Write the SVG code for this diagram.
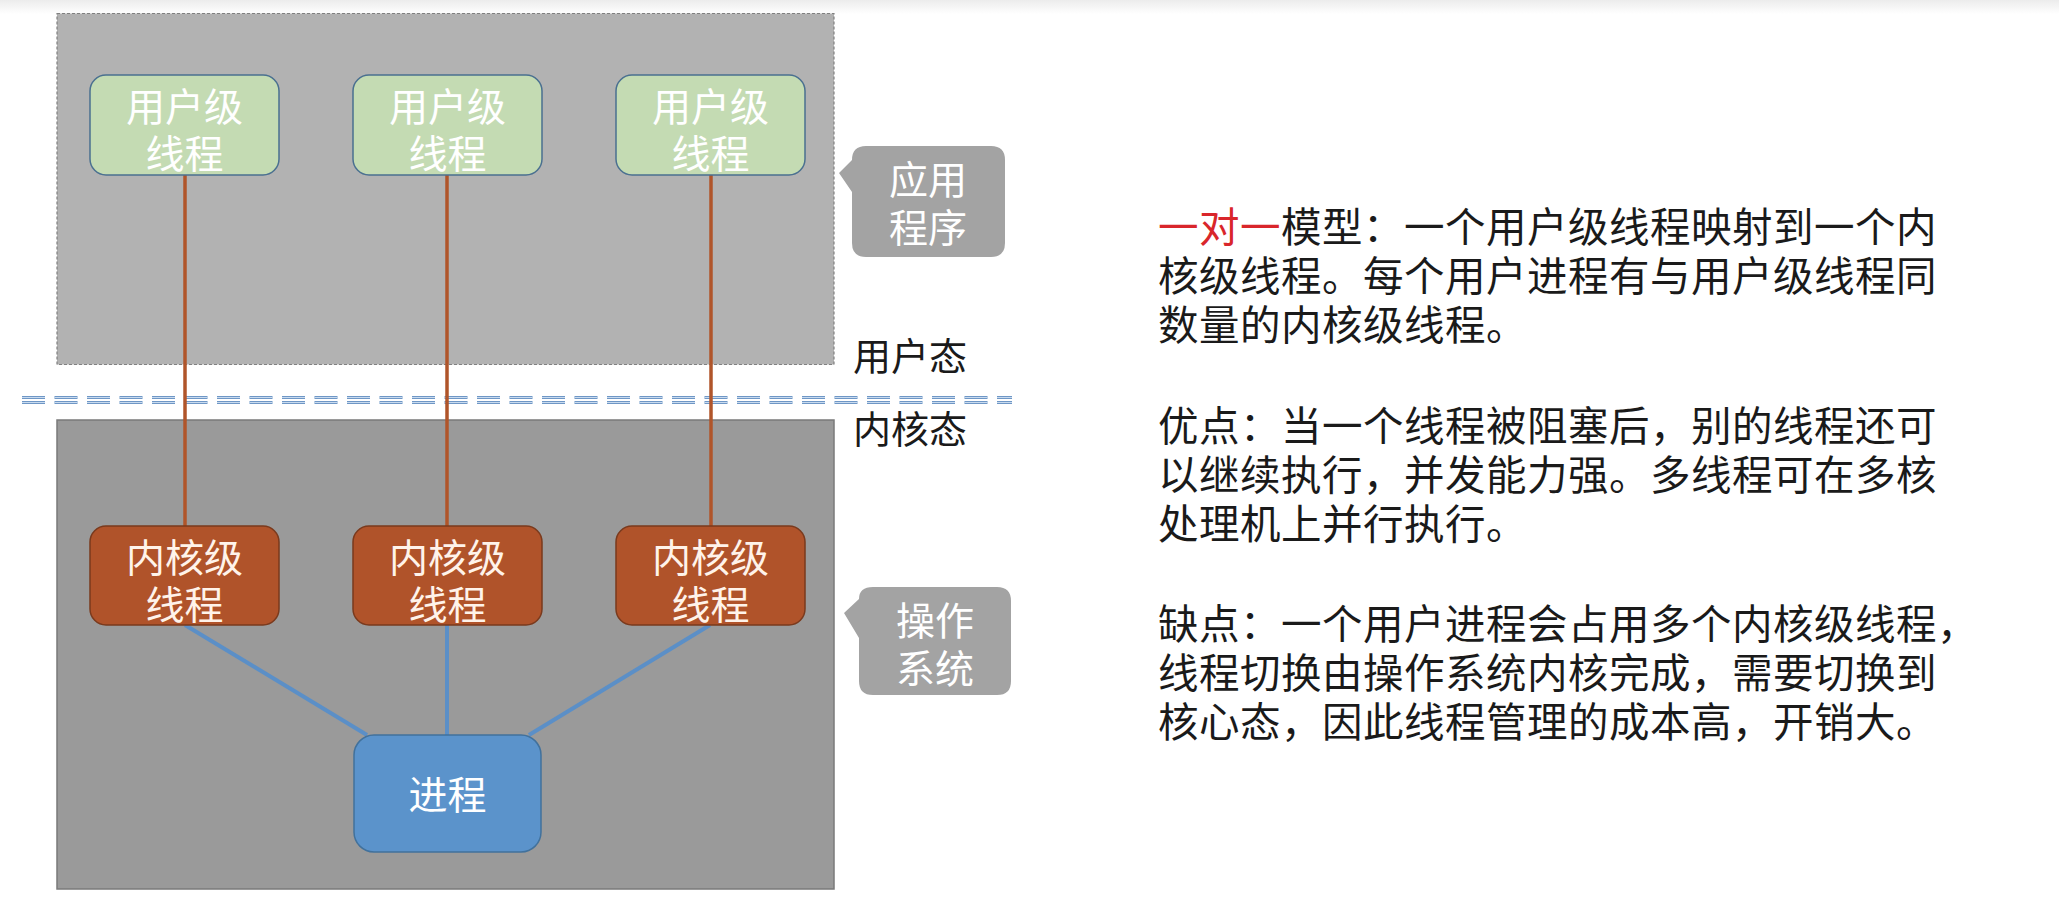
<svg xmlns="http://www.w3.org/2000/svg" width="2059" height="904" viewBox="0 0 2059 904">
<defs>
<linearGradient id="topfade" x1="0" y1="0" x2="0" y2="1">
<stop offset="0" stop-color="#ececec"/>
<stop offset="1" stop-color="#ffffff"/>
</linearGradient>
</defs>
<style>
text{font-family:"Noto Sans CJK SC","Noto Sans",sans-serif;}
.ut{fill:#c4dbb3;stroke:#4a7090;stroke-width:1.5;}
.kt{fill:#b0532a;stroke:#7a3a1d;stroke-width:1.5;}
.pr{fill:#5b93cb;stroke:#41719c;stroke-width:1.5;}
.callout{fill:#a3a3a3;}
.bt{fill:#ffffff;font-size:39px;text-anchor:middle;}
.kt-t{fill:#fff3ea;font-size:39px;text-anchor:middle;}
.lbl{fill:#1a1a1a;font-size:38px;}
.body{fill:#1a1a1a;font-size:40.5px;letter-spacing:0.5px;}
.red{fill:#d9262b;}
.uk{stroke:#b0552a;stroke-width:3.5;fill:none;}
.kp{stroke:#5b8fc7;stroke-width:4;fill:none;}
.sep{stroke:#6f97c6;stroke-width:3;stroke-dasharray:23 9.5;fill:none;}
.sepc{stroke:#c9dbef;stroke-width:1;stroke-dasharray:23 9.5;fill:none;}
</style>
<rect x="0" y="0" width="2059" height="904" fill="#ffffff"/>
<rect x="0" y="0" width="2059" height="14" fill="url(#topfade)"/>

<g id="user-space">
<rect x="57" y="13.5" width="777" height="351" fill="#b2b2b2" stroke="#808080" stroke-width="1.2" stroke-dasharray="3 2"/>
</g>
<g id="kernel-space">
<rect x="57" y="420" width="777" height="469" fill="#9a9a9a" stroke="#7a7a7a" stroke-width="1.5"/>
</g>

<g id="separator">
<line class="sep" x1="22" y1="397.5" x2="1012" y2="397.5"/>
<line class="sep" x1="22" y1="402.5" x2="1012" y2="402.5"/>
<line class="sepc" x1="22" y1="397.5" x2="1012" y2="397.5"/>
<line class="sepc" x1="22" y1="402.5" x2="1012" y2="402.5"/>
</g>

<g id="connectors">
<line class="uk" x1="185" y1="175" x2="185" y2="526"/>
<line class="uk" x1="447" y1="175" x2="447" y2="526"/>
<line class="uk" x1="711" y1="175" x2="711" y2="526"/>
<line class="kp" x1="185" y1="625" x2="367" y2="735"/>
<line class="kp" x1="447" y1="625" x2="447" y2="735"/>
<line class="kp" x1="710" y1="625" x2="529" y2="735"/>
</g>

<g id="ult1"><rect class="ut" x="90" y="75" width="189" height="100" rx="16"/><text class="bt" x="184.5" y="121">用户级</text><text class="bt" x="184.5" y="168">线程</text></g>
<g id="ult2"><rect class="ut" x="353" y="75" width="189" height="100" rx="16"/><text class="bt" x="447.5" y="121">用户级</text><text class="bt" x="447.5" y="168">线程</text></g>
<g id="ult3"><rect class="ut" x="616" y="75" width="189" height="100" rx="16"/><text class="bt" x="710.5" y="121">用户级</text><text class="bt" x="710.5" y="168">线程</text></g>

<g id="klt1"><rect class="kt" x="90" y="526" width="189" height="99" rx="16"/><text class="kt-t" x="184.5" y="572">内核级</text><text class="kt-t" x="184.5" y="619">线程</text></g>
<g id="klt2"><rect class="kt" x="353" y="526" width="189" height="99" rx="16"/><text class="kt-t" x="447.5" y="572">内核级</text><text class="kt-t" x="447.5" y="619">线程</text></g>
<g id="klt3"><rect class="kt" x="616" y="526" width="189" height="99" rx="16"/><text class="kt-t" x="710.5" y="572">内核级</text><text class="kt-t" x="710.5" y="619">线程</text></g>

<g id="process"><rect class="pr" x="354" y="735" width="187" height="117" rx="20"/><text class="bt" x="447.5" y="809">进程</text></g>

<g id="callout-app">
<path class="callout" d="M866 146 H991 Q1005 146 1005 160 V243 Q1005 257 991 257 H866 Q852 257 852 243 V192 L839 173 L852 160 Q852 146 866 146 Z"/>
<text class="bt" x="928" y="194">应用</text>
<text class="bt" x="928" y="242">程序</text>
</g>
<g id="callout-os">
<path class="callout" d="M873 587 H997 Q1011 587 1011 601 V681 Q1011 695 997 695 H873 Q859 695 859 681 V638 L844 613 L859 599 Q859 587 873 587 Z"/>
<text class="bt" x="935" y="635">操作</text>
<text class="bt" x="935" y="683">系统</text>
</g>

<g id="mode-labels">
<text class="lbl" x="853" y="370">用户态</text>
<text class="lbl" x="853" y="443">内核态</text>
</g>

<g id="description">
<text class="body" x="1158" y="242"><tspan class="red">一对一</tspan>模型：一个用户级线程映射到一个内</text>
<text class="body" x="1158" y="291">核级线程。每个用户进程有与用户级线程同</text>
<text class="body" x="1158" y="340">数量的内核级线程。</text>
<text class="body" x="1158" y="441">优点：当一个线程被阻塞后，别的线程还可</text>
<text class="body" x="1158" y="490">以继续执行，并发能力强。多线程可在多核</text>
<text class="body" x="1158" y="539">处理机上并行执行。</text>
<text class="body" x="1158" y="639">缺点：一个用户进程会占用多个内核级线程，</text>
<text class="body" x="1158" y="688">线程切换由操作系统内核完成，需要切换到</text>
<text class="body" x="1158" y="737">核心态，因此线程管理的成本高，开销大。</text>
</g>
</svg>
